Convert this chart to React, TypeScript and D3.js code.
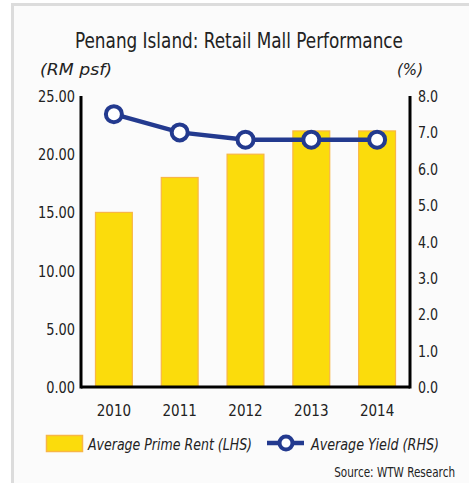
import React from "react";
import * as d3 from "d3";

const years = ["2010", "2011", "2012", "2013", "2014"];
const rent = [15, 18, 20, 22, 22];
const yieldPct = [7.5, 7.0, 6.8, 6.8, 6.8];
const leftTicks = [0, 5, 10, 15, 20, 25];
const rightTicks = [0, 1, 2, 3, 4, 5, 6, 7, 8];

const W = 469;
const H = 483;
const FONT = "'DejaVu Sans Condensed', 'Liberation Sans Narrow', sans-serif";

export default function App() {
  const left = 81;
  const right = 410;
  const top = 96;
  const bottom = 387;
  const x = d3.scaleBand<string>().domain(years).range([left, right]).paddingInner(0.44).paddingOuter(0.22);
  const yL = d3.scaleLinear().domain([0, 25]).range([bottom, top]);
  const yR = d3.scaleLinear().domain([0, 8]).range([bottom, top]);
  const line = d3
    .line<number>()
    .x((_, i) => (x(years[i]) as number) + x.bandwidth() / 2)
    .y((d) => yR(d));
  const navy = "#233a8f";
  const yellow = "#fbdc0c";
  const orange = "#f8b645";
  const txt = "#222";
  const adj = "spacingAndGlyphs";

  return (
    <svg
      width={W}
      height={H}
      style={{ position: "fixed", left: 0, top: 0 }}
      fontFamily={FONT}
    >
      <rect x={0} y={0} width={W} height={H} fill="#ffffff" />
      <rect x={11} y={3} width={W - 11} height={H - 3} fill="#dcdcdc" />
      <rect x={14} y={6} width={W - 14} height={H - 6} fill="#fbfbfb" />

      <text x={75} y={48} fontSize={21} fill={txt} textLength={328} lengthAdjust={adj}>
        Penang Island: Retail Mall Performance
      </text>
      <text x={40} y={75} fontSize={16} fontStyle="italic" fill={txt} textLength={72} lengthAdjust={adj}>
        (RM psf)
      </text>
      <text x={397} y={75} fontSize={16} fontStyle="italic" fill={txt} textLength={26} lengthAdjust={adj}>
        (%)
      </text>

      {years.map((yr, i) => (
        <rect
          key={yr}
          x={x(yr)}
          y={yL(rent[i])}
          width={x.bandwidth()}
          height={bottom - yL(rent[i])}
          fill={yellow}
          stroke={orange}
          strokeWidth={1.2}
        />
      ))}

      <line x1={left} y1={top} x2={left} y2={bottom + 1.5} stroke="#000" strokeWidth={3} />
      <line x1={right} y1={top} x2={right} y2={bottom + 1.5} stroke="#000" strokeWidth={3} />
      <line x1={left} y1={bottom} x2={right} y2={bottom} stroke="#000" strokeWidth={3} />

      {leftTicks.map((t) => (
        <g key={t} transform={`translate(75,${yL(t) + 6}) scale(0.9,1)`}>
          <text textAnchor="end" fontSize={16} fill={txt}>
            {t.toFixed(2)}
          </text>
        </g>
      ))}
      {rightTicks.map((t) => (
        <g key={t} transform={`translate(418,${yR(t) + 6}) scale(0.88,1)`}>
          <text fontSize={16} fill={txt}>
            {t.toFixed(1)}
          </text>
        </g>
      ))}
      {years.map((yr) => (
        <g key={yr} transform={`translate(${(x(yr) as number) + x.bandwidth() / 2},416) scale(0.94,1)`}>
          <text textAnchor="middle" fontSize={16} fill={txt}>
            {yr}
          </text>
        </g>
      ))}

      <path d={line(yieldPct) || ""} fill="none" stroke={navy} strokeWidth={4.5} />
      {yieldPct.map((v, i) => (
        <circle
          key={i}
          cx={(x(years[i]) as number) + x.bandwidth() / 2}
          cy={yR(v)}
          r={8}
          fill="#fff"
          stroke={navy}
          strokeWidth={4}
        />
      ))}

      <rect x={46.5} y={435.5} width={36} height={16} fill={yellow} stroke={orange} strokeWidth={1.5} />
      <text x={88} y={450} fontSize={16} fontStyle="italic" fill={txt} textLength={164} lengthAdjust={adj}>
        Average Prime Rent (LHS)
      </text>
      <line x1={267} y1={443} x2={304} y2={443} stroke={navy} strokeWidth={4.5} />
      <circle cx={286} cy={443} r={6.5} fill="#fff" stroke={navy} strokeWidth={4} />
      <text x={311} y={450} fontSize={16} fontStyle="italic" fill={txt} textLength={128} lengthAdjust={adj}>
        Average Yield (RHS)
      </text>
      <g transform="translate(455,477) scale(0.86,1)">
        <text textAnchor="end" fontSize={13.5} fill={txt}>
          Source: WTW Research
        </text>
      </g>
    </svg>
  );
}
